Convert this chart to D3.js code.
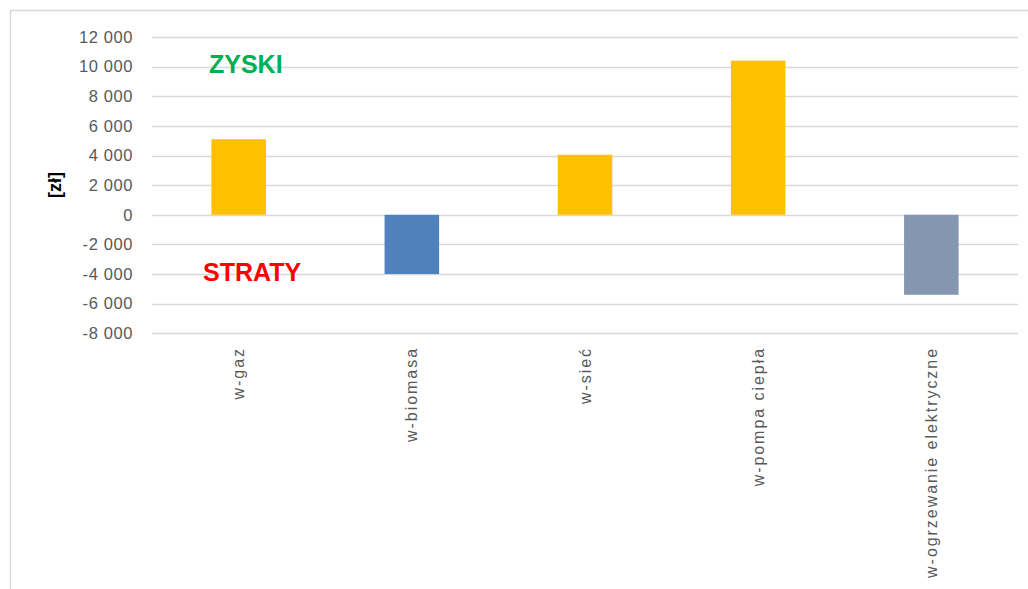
<!DOCTYPE html>
<html><head><meta charset="utf-8">
<script src="https://cdn.jsdelivr.net/npm/d3@7"></script>
<style>body{margin:0;background:#fff;}svg{display:block;}</style>
</head><body>
<script>
const categories = ["w-gaz", "w-biomasa", "w-sieć", "w-pompa ciepła", "w-ogrzewanie elektryczne"];
const values = [5100, -4000, 4050, 10400, -5400];
const barColors = ["#FFC000", "#4F81BD", "#FFC000", "#FFC000", "#8497B0"];
const yTicks = [12000, 10000, 8000, 6000, 4000, 2000, 0, -2000, -4000, -6000, -8000];
const yLabel = "[zł]";
const gainLabel = "ZYSKI";
const lossLabel = "STRATY";

const W = 1028, H = 589;
const svg = d3.select("body").append("svg").attr("width", W).attr("height", H);

// frame
svg.append("path").attr("d", `M10.5,${H} L10.5,10.5 L${W},10.5`)
  .attr("fill", "none").attr("stroke", "#D9D9D9").attr("stroke-width", 1.5);

const x = d3.scaleBand().domain(categories).range([152, 1018]).paddingInner(0.685).paddingOuter(0.343);
const y = d3.scaleLinear().domain([-8000, 12000]).range([333.3, 37]);

const fmt = v => d3.format(",")(v).replace(/,/g, " ").replace("−", "-");

// gridlines
svg.append("g").selectAll("line").data(yTicks).join("line")
  .attr("x1", 152).attr("x2", 1018)
  .attr("y1", d => Math.round(y(d)) + 0.5).attr("y2", d => Math.round(y(d)) + 0.5)
  .attr("stroke", "#D9D9D9").attr("stroke-width", 1.3);

// y axis labels
const yAxis = d3.axisLeft(y).tickValues(yTicks).tickSize(0).tickPadding(0).tickFormat(fmt);
const yg = svg.append("g").attr("transform", "translate(133,0)").call(yAxis);
yg.select(".domain").remove();
yg.selectAll("text").attr("font-family", "Liberation Sans, Arial, sans-serif")
  .attr("font-size", 16.5).attr("letter-spacing", "0.6px").attr("fill", "#595959");

// bars
svg.append("g").selectAll("rect").data(values).join("rect")
  .attr("x", (d, i) => x(categories[i]))
  .attr("width", x.bandwidth())
  .attr("y", d => y(Math.max(0, d)))
  .attr("height", d => Math.abs(y(d) - y(0)))
  .attr("fill", (d, i) => barColors[i]);

// category labels
const xAxis = d3.axisBottom(x).tickSize(0).tickPadding(0);
const xg = svg.append("g").attr("transform", "translate(0,347)").call(xAxis);
xg.select(".domain").remove();
xg.selectAll("text")
  .attr("font-family", "Liberation Sans, Arial, sans-serif")
  .attr("font-size", 16).attr("letter-spacing", "1.95px").attr("fill", "#595959")
  .attr("transform", "rotate(-90)")
  .attr("text-anchor", "end")
  .attr("x", 0).attr("y", 0).attr("dy", "0.35em");

// y label
svg.append("text").text(yLabel)
  .attr("transform", "translate(61,185) rotate(-90)")
  .attr("text-anchor", "middle")
  .attr("font-family", "Liberation Sans, Arial, sans-serif")
  .attr("font-weight", "bold").attr("font-size", 18).attr("fill", "#000");

// annotations
svg.append("text").text(gainLabel).attr("x", 209).attr("y", 73)
  .attr("font-family", "Liberation Sans, Arial, sans-serif").attr("font-weight", "bold")
  .attr("font-size", 25).attr("fill", "#00B050");
svg.append("text").text(lossLabel).attr("x", 203).attr("y", 281)
  .attr("font-family", "Liberation Sans, Arial, sans-serif").attr("font-weight", "bold")
  .attr("font-size", 25).attr("fill", "#FF0000");
</script>
</body></html>
